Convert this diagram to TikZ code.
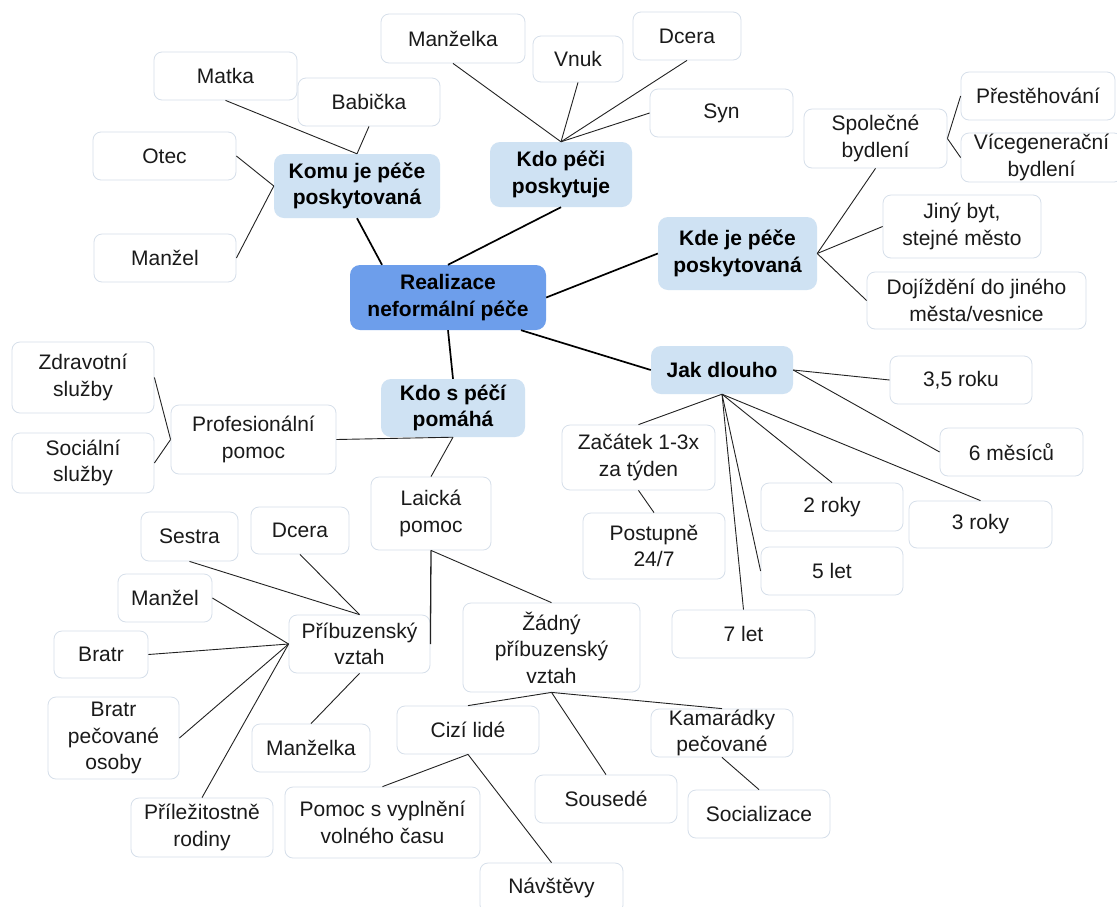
\documentclass[tikz,border=0pt]{standalone}
\usepackage{fontspec}
\setmainfont{Liberation Sans}
\definecolor{leafborder}{HTML}{D6DFEA}
\definecolor{catblue}{HTML}{CFE2F3}
\definecolor{rootblue}{HTML}{6D9EEB}
\definecolor{linkcol}{HTML}{222222}
\definecolor{txt}{HTML}{1A1A1A}
\newcommand\bx[7]{\node[#6, minimum width={(#4-#2)*1pt}, minimum height={(#5-#3)*1pt}] (#1) at ({(#2+#4)/2},{(#3+#5)/2}) {#7};}
\begin{document}
\begin{tikzpicture}[x=1pt,y=-1pt,
  leaf/.style={draw=leafborder, fill=white, rounded corners=8pt, line width=0.8pt, inner sep=0pt, align=center, text=txt, font=\fontsize{21}{26.5}\selectfont},
  cat/.style={fill=catblue, rounded corners=10pt, inner sep=0pt, align=center, text=black, font=\fontsize{21}{26.5}\selectfont\bfseries},
  root/.style={fill=rootblue, rounded corners=10pt, inner sep=0pt, align=center, text=black, font=\fontsize{21}{26.5}\selectfont\bfseries},
  link/.style={draw=linkcol, line width=0.9pt},
  mainlink/.style={draw=black, line width=1.7pt}]
\useasboundingbox (0,0) rectangle (1117,906);
\fill[white] (0,0) rectangle (1117,906);
% root and categories
\bx{root}{350}{265}{546}{330}{root}{Realizace\\neformální péče}
\bx{komu}{274}{154}{440}{218}{cat}{Komu je péče\\poskytovaná}
\bx{kdo}{490}{142}{632}{207}{cat}{Kdo péči\\poskytuje}
\bx{kde}{658}{217}{817}{290}{cat}{Kde je péče\\poskytovaná}
\bx{jak}{651}{346}{793}{394}{cat}{Jak dlouho}
\bx{pom}{381}{379}{525}{437}{cat}{Kdo s péčí\\pomáhá}
% Komu leaves
\bx{matka}{154}{52}{297}{100}{leaf}{Matka}
\bx{babicka}{298}{78}{440}{126}{leaf}{Babička}
\bx{otec}{93}{132}{236}{180}{leaf}{Otec}
\bx{manzelA}{94}{234}{236}{282}{leaf}{Manžel}
% Kdo leaves
\bx{manzelkaA}{381}{14}{525}{63}{leaf}{Manželka}
\bx{vnuk}{533}{36}{623}{82}{leaf}{Vnuk}
\bx{dceraA}{633}{12}{741}{60}{leaf}{Dcera}
\bx{syn}{650}{89}{793}{137}{leaf}{Syn}
% Kde leaves
\bx{spol}{804}{109}{947}{168}{leaf}{Společné\\bydlení}
\bx{prest}{961}{72}{1115}{120}{leaf}{Přestěhování}
\bx{vice}{961}{133}{1122}{182}{leaf}{Vícegenerační\\bydlení}
\bx{jiny}{883}{195}{1041}{258}{leaf}{Jiný byt,\\stejné město}
\bx{doj}{867}{272}{1086}{329}{leaf}{Dojíždění do jiného\\města/vesnice}
% Jak leaves
\bx{r35}{890}{356}{1032}{404}{leaf}{3,5 roku}
\bx{m6}{940}{428}{1083}{476}{leaf}{6 měsíců}
\bx{zac}{562}{425}{715}{490}{leaf}{Začátek 1-3x\\za týden}
\bx{post}{583}{513}{725}{579}{leaf}{Postupně\\24/7}
\bx{r2}{761}{483}{903}{531}{leaf}{2 roky}
\bx{r3}{909}{501}{1052}{548}{leaf}{3 roky}
\bx{l5}{761}{547}{903}{595}{leaf}{5 let}
\bx{l7}{672}{610}{815}{658}{leaf}{7 let}
% Pomáhá leaves
\bx{prof}{171}{405}{336}{474}{leaf}{Profesionální\\pomoc}
\bx{zdrav}{12}{342}{154}{413}{leaf}{Zdravotní\\služby}
\bx{soc}{12}{433}{154}{493}{leaf}{Sociální\\služby}
\bx{laic}{371}{477}{491}{550}{leaf}{Laická\\pomoc}
\bx{pribuz}{289}{615}{430}{673}{leaf}{Příbuzenský\\vztah}
\bx{sestra}{141}{512}{238}{561}{leaf}{Sestra}
\bx{dceraB}{251}{507}{349}{554}{leaf}{Dcera}
\bx{manzelB}{118}{574}{212}{622}{leaf}{Manžel}
\bx{bratr}{54}{631}{148}{678}{leaf}{Bratr}
\bx{bratrpec}{48}{697}{179}{779}{leaf}{Bratr\\pečované\\osoby}
\bx{manzelkaB}{252}{724}{370}{772}{leaf}{Manželka}
\bx{prilez}{131}{798}{273}{857}{leaf}{Příležitostně\\rodiny}
\bx{zadny}{463}{603}{640}{692}{leaf}{Žádný\\příbuzenský\\vztah}
\bx{cizi}{397}{706}{539}{754}{leaf}{Cizí lidé}
\bx{kamar}{651}{709}{793}{757}{leaf}{Kamarádky\\pečované}
\bx{sous}{535}{775}{677}{823}{leaf}{Sousedé}
\bx{social}{688}{790}{830}{838}{leaf}{Socializace}
\bx{pomoc}{285}{787}{480}{858}{leaf}{Pomoc s vyplnění\\volného času}
\bx{navst}{480}{863}{623}{913}{leaf}{Návštěvy}
% main connectors
\draw[mainlink] (komu.south) -- ([xshift=-66pt]root.north);
\draw[mainlink] (root.north) -- (kdo.south);
\draw[mainlink] (root.east) -- (kde.west);
\draw[mainlink] ([xshift=73pt]root.south) -- (jak.west);
\draw[mainlink] (root.south) -- (pom.north);
% Komu
\draw[link] (komu.north) -- (matka.south);
\draw[link] (komu.north) -- (babicka.south);
\draw[link] (komu.west) -- (otec.east);
\draw[link] (komu.west) -- (manzelA.east);
% Kdo
\draw[link] (kdo.north) -- (manzelkaA.south);
\draw[link] (kdo.north) -- (vnuk.south);
\draw[link] (kdo.north) -- (dceraA.south);
\draw[link] (kdo.north) -- (syn.west);
% Kde
\draw[link] (kde.east) -- (spol.south);
\draw[link] (kde.east) -- (jiny.west);
\draw[link] (kde.east) -- (doj.west);
\draw[link] (spol.east) -- (prest.west);
\draw[link] (spol.east) -- (vice.west);
% Jak
\draw[link] (jak.east) -- (r35.west);
\draw[link] (jak.east) -- (m6.west);
\draw[link] (jak.south) -- (zac.north);
\draw[link] (jak.south) -- (r2.north);
\draw[link] (jak.south) -- (r3.north);
\draw[link] (jak.south) -- (l5.west);
\draw[link] (jak.south) -- (l7.north);
\draw[link] (zac.south) -- (post.north);
% Pomáhá
\draw[link] (pom.south) -- (prof.east);
\draw[link] (pom.south) -- (laic.north);
\draw[link] (prof.west) -- (zdrav.east);
\draw[link] (prof.west) -- (soc.east);
\draw[link, line width=1.3pt] (laic.south) -- (pribuz.east);
\draw[link] (laic.south) -- (zadny.north);
\draw[link] (pribuz.north) -- (sestra.south);
\draw[link] (pribuz.north) -- (dceraB.south);
\draw[link] (pribuz.west) -- (manzelB.east);
\draw[link] (pribuz.west) -- (bratr.east);
\draw[link] (pribuz.west) -- (bratrpec.east);
\draw[link] (pribuz.west) -- (prilez.north);
\draw[link] (pribuz.south) -- (manzelkaB.north);
\draw[link] (zadny.south) -- (cizi.north);
\draw[link] (zadny.south) -- (sous.north);
\draw[link] (zadny.south) -- (kamar.north);
\draw[link] (cizi.south) -- (pomoc.north);
\draw[link] (cizi.south) -- (navst.north);
\draw[link] (kamar.south) -- (social.north);
\end{tikzpicture}
\end{document}
